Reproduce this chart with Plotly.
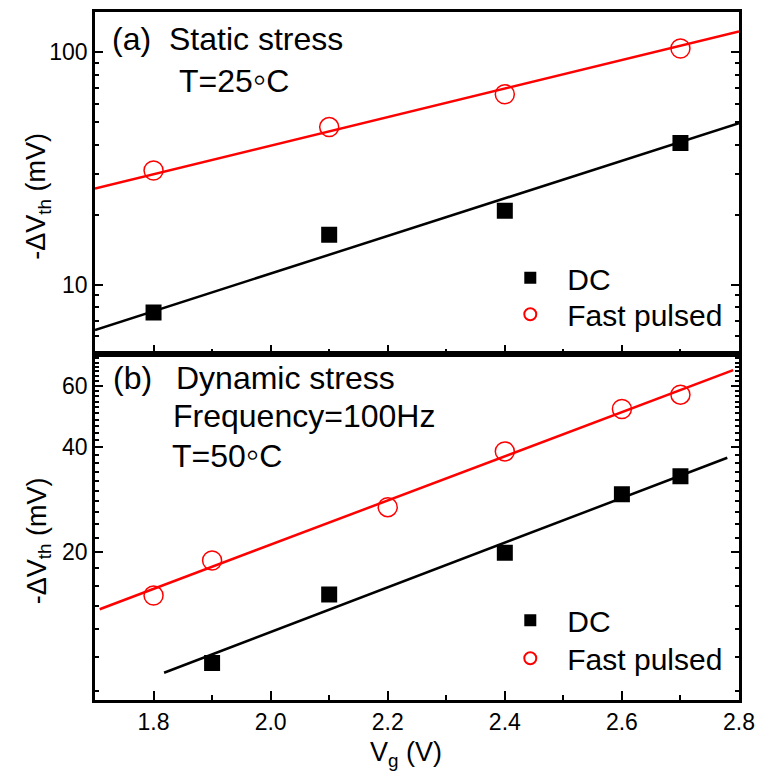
import plotly.graph_objects as go

# ---------------- data ----------------
# (a) static stress, T=25C
vg_a = [1.8, 2.1, 2.4, 2.7]
dc_a = [7.6, 16.4, 20.8, 40.7]
fp_a = [31.0, 47.6, 65.9, 103.5]
fit_x_a = [1.7, 2.8]
fit_dc_a = [6.4, 49.5]
fit_fp_a = [25.9, 122.7]

# (b) dynamic stress, 100 Hz, T=50C
vg_b_dc = [1.9, 2.1, 2.4, 2.6, 2.7]
dc_b = [9.6, 15.1, 19.9, 29.3, 33.0]
vg_b_fp = [1.8, 1.9, 2.2, 2.4, 2.6, 2.7]
fp_b = [15.0, 18.9, 26.9, 38.9, 51.5, 56.6]
fit_x_b_dc = [1.818, 2.78]
fit_dc_b = [9.0, 37.3]
fit_x_b_fp = [1.708, 2.79]
fit_fp_b = [13.7, 66.6]

x_ticks = [1.8, 2.0, 2.2, 2.4, 2.6, 2.8]
x_ticklabels = ["1.8", "2.0", "2.2", "2.4", "2.6", "2.8"]
ya_ticks = [10, 100]
ya_minor = [6, 7, 8, 9, 20, 30, 40, 50, 60, 70, 80, 90]
yb_ticks = [20, 40, 60]
yb_minor = [v for v in range(8, 75, 2) if v not in (20, 40, 60)]

# ---------------- styling ----------------
FONT = "Liberation Sans, Arial, sans-serif"
W, H = 764, 782
ML, MR, MT, MB = 95, 19, 9, 82
PW, PH = W - ML - MR, H - MT - MB
SPLIT = 348 / PH


def xp(px):
    return (px - ML) / PW


def yp(py):
    return (H - MB - py) / PH


fig = go.Figure()

sq = dict(symbol="square", size=16, color="black")
ci = dict(symbol="circle-open", size=19, color="#ff0000", line=dict(width=1.5, color="#ff0000"))

# panel (a) -> x2/y2
fig.add_trace(go.Scatter(x=fit_x_a, y=fit_dc_a, mode="lines", xaxis="x2", yaxis="y2",
                         line=dict(color="black", width=2.5), showlegend=False))
fig.add_trace(go.Scatter(x=fit_x_a, y=fit_fp_a, mode="lines", xaxis="x2", yaxis="y2",
                         line=dict(color="#ff0000", width=2.5), showlegend=False))
fig.add_trace(go.Scatter(x=vg_a, y=dc_a, mode="markers", name="DC", xaxis="x2", yaxis="y2",
                         marker=sq, legend="legend"))
fig.add_trace(go.Scatter(x=vg_a, y=fp_a, mode="markers", name="Fast pulsed", xaxis="x2", yaxis="y2",
                         marker=ci, legend="legend2"))

# panel (b) -> x/y
fig.add_trace(go.Scatter(x=fit_x_b_dc, y=fit_dc_b, mode="lines", xaxis="x", yaxis="y",
                         line=dict(color="black", width=2.5), showlegend=False))
fig.add_trace(go.Scatter(x=fit_x_b_fp, y=fit_fp_b, mode="lines", xaxis="x", yaxis="y",
                         line=dict(color="#ff0000", width=2.5), showlegend=False))
fig.add_trace(go.Scatter(x=vg_b_dc, y=dc_b, mode="markers", name="DC", xaxis="x", yaxis="y",
                         marker=sq, legend="legend3"))
fig.add_trace(go.Scatter(x=vg_b_fp, y=fp_b, mode="markers", name="Fast pulsed", xaxis="x", yaxis="y",
                         marker=ci, legend="legend4"))

common_x = dict(range=[1.7, 2.8], tickvals=x_ticks, ticktext=x_ticklabels,
                ticks="inside", ticklen=9, tickwidth=2, tickcolor="black",
                minor=dict(dtick=0.1, tick0=1.7, ticks="inside", ticklen=5, tickwidth=2, tickcolor="black"),
                showline=True, linecolor="black", linewidth=2.5, mirror=True,
                showgrid=False, zeroline=False,
                tickfont=dict(family=FONT, size=23, color="black"))

common_y = dict(type="log", ticks="inside", ticklen=8, tickwidth=2, tickcolor="black",
                showline=True, linecolor="black", linewidth=2.5, mirror="allticks",
                showgrid=False, zeroline=False,
                tickfont=dict(family=FONT, size=23, color="black"))

legend_style = dict(font=dict(family=FONT, size=30, color="black"), bgcolor="rgba(0,0,0,0)",
                    itemsizing="constant", itemwidth=64, xanchor="left", yanchor="middle",
                    borderwidth=0)
LX = xp(497)

fig.update_layout(
    width=W, height=H,
    margin=dict(l=ML, r=MR, t=MT, b=MB),
    paper_bgcolor="white", plot_bgcolor="white",
    font=dict(family=FONT, color="black"),
    xaxis=dict(common_x, anchor="y", domain=[0, 1]),
    yaxis=dict(common_y, anchor="x", domain=[0, SPLIT], range=[0.876, 1.871],
               tickvals=yb_ticks, ticktext=[str(v) for v in yb_ticks],
               minor=dict(tickvals=yb_minor, ticks="inside", ticklen=4, tickwidth=2, tickcolor="black")),
    xaxis2=dict(common_x, anchor="y2", domain=[0, 1], matches="x", showticklabels=False),
    yaxis2=dict(common_y, anchor="x2", domain=[SPLIT, 1], range=[0.705, 2.172],
                tickvals=ya_ticks, ticktext=[str(v) for v in ya_ticks],
                minor=dict(tickvals=ya_minor, ticks="inside", ticklen=4, tickwidth=2, tickcolor="black")),
    legend=dict(legend_style, x=LX, y=yp(276)),
    legend2=dict(legend_style, x=LX, y=yp(312.5)),
    legend3=dict(legend_style, x=LX, y=yp(620)),
    legend4=dict(legend_style, x=LX, y=yp(658)),
    showlegend=True,
)

DEG = "<span style='font-size:38px'>\u25e6</span>"
ann_font = dict(family=FONT, size=32, color="black")
texts = [
    ("(a)", 110, 36),
    ("Static stress", 168, 36),
    ("T=25" + DEG + "C", 178, 76),
    ("(b)", 111, 377),
    ("Dynamic stress", 175, 377),
    ("Frequency=100Hz", 172, 415),
    ("T=50" + DEG + "C", 171, 453),
]
for t, px, py in texts:
    fig.add_annotation(text=t, x=xp(px), y=yp(py), xref="paper", yref="paper",
                       xanchor="left", yanchor="middle", showarrow=False, font=ann_font)

title_font = dict(family=FONT, size=27, color="black")
for py in (194, 540):
    fig.add_annotation(text="-\u0394V<sub>th</sub> (mV)", x=xp(38), y=yp(py), xref="paper", yref="paper",
                       xanchor="center", yanchor="middle", textangle=-90, showarrow=False, font=title_font)
fig.add_annotation(text="V<sub>g</sub> (V)", x=xp(409), y=yp(754), xref="paper", yref="paper",
                   xanchor="center", yanchor="middle", showarrow=False, font=title_font)

fig.write_html("out.html")
